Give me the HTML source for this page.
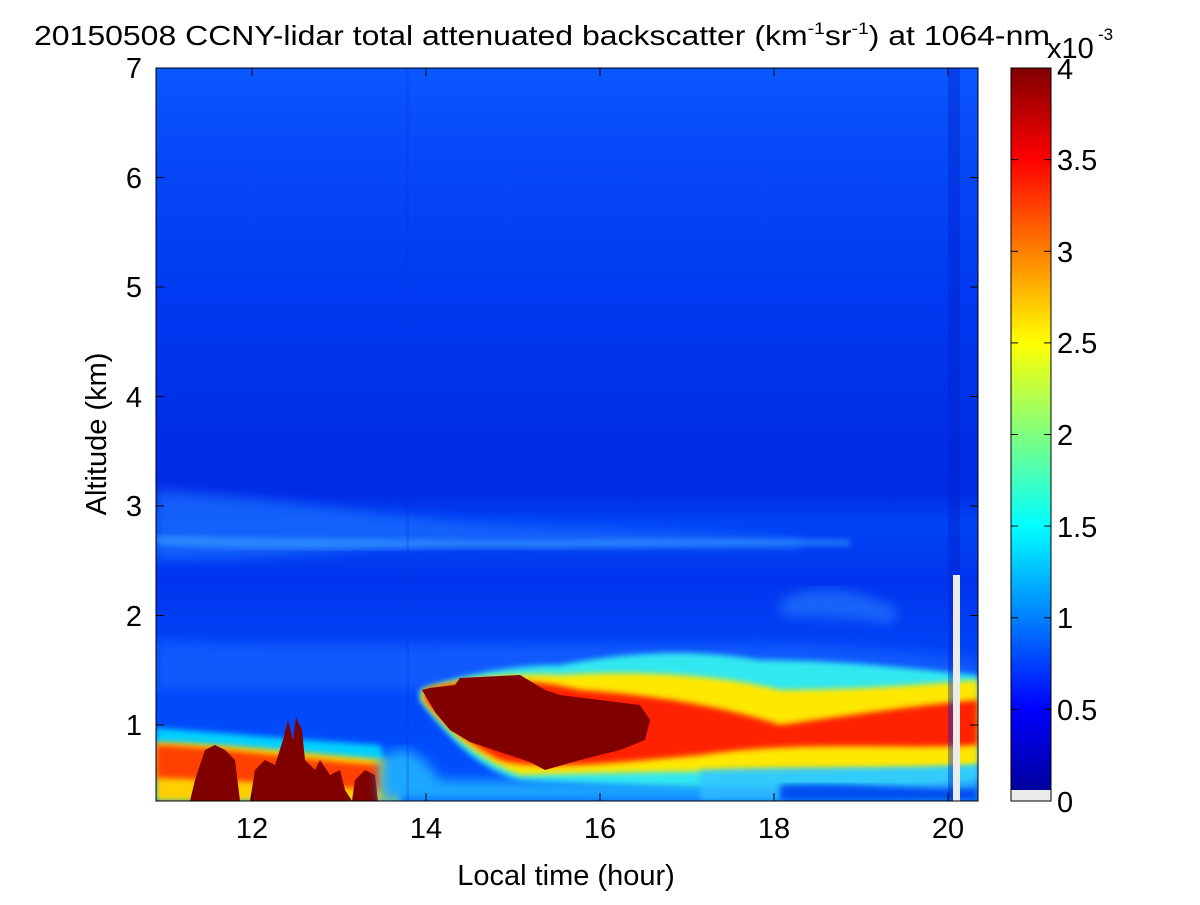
<!DOCTYPE html>
<html><head><meta charset="utf-8"><style>
body{margin:0;background:#fff;}
svg text{font-family:"Liberation Sans",Arial,sans-serif;fill:#000;}
</style></head><body>
<svg width="1200" height="900" viewBox="0 0 1200 900" xmlns="http://www.w3.org/2000/svg">
<defs>
<linearGradient id="bg" x1="0" y1="68" x2="0" y2="801" gradientUnits="userSpaceOnUse">
<stop offset="0" stop-color="#0a58ff"/>
<stop offset="0.08" stop-color="#084cfa"/>
<stop offset="0.3" stop-color="#003af2"/>
<stop offset="0.5" stop-color="#002ee8"/>
<stop offset="0.58" stop-color="#002ce6"/>
<stop offset="0.62" stop-color="#0044f6"/>
<stop offset="0.7" stop-color="#0034ee"/>
<stop offset="0.8" stop-color="#0044f8"/>
<stop offset="1" stop-color="#0050ff"/>
</linearGradient>
<linearGradient id="jet" x1="0" y1="801" x2="0" y2="68" gradientUnits="userSpaceOnUse">
<stop offset="0" stop-color="#00008f"/>
<stop offset="0.125" stop-color="#0000ff"/>
<stop offset="0.375" stop-color="#00ffff"/>
<stop offset="0.625" stop-color="#ffff00"/>
<stop offset="0.875" stop-color="#ff0000"/>
<stop offset="1" stop-color="#800000"/>
</linearGradient>
<filter id="b3"><feGaussianBlur stdDeviation="3"/></filter>
<filter id="b6"><feGaussianBlur stdDeviation="6"/></filter>
<clipPath id="pc"><rect x="156" y="68" width="822" height="733"/></clipPath>
</defs>
<g clip-path="url(#pc)">
<rect x="156" y="68" width="822" height="733" fill="url(#bg)"/>
<path d="M156 490 C300 500 400 520 500 525 C600 530 700 530 800 540 L800 548 C700 545 600 548 500 545 C400 540 300 560 156 560Z" fill="#1a70ff" opacity="0.7" filter="url(#b6)"/>
<path d="M156 535 C300 540 400 538 500 540 C600 540 700 538 850 540 L850 546 C700 546 600 548 500 548 C400 548 300 552 156 545Z" fill="#3aa0ff" opacity="0.6" filter="url(#b3)"/>
<path d="M780 600 C820 580 860 590 900 610 L890 625 C850 615 820 620 780 615Z" fill="#2a80ff" opacity="0.6" filter="url(#b6)"/>
<path d="M156 640 C300 650 500 640 700 645 C800 640 900 650 978 660 L978 690 L156 690Z" fill="#1c68ff" opacity="0.6" filter="url(#b6)"/>
<path d="M156 728 C250 735 300 740 380 745 L400 801 L156 801Z" fill="#00d0ff" filter="url(#b3)"/>
<path d="M156 742 C250 745 320 755 390 760 L400 801 L156 801Z" fill="#ffd000" filter="url(#b3)"/>
<path d="M156 745 C230 748 300 760 380 765 L380 790 C300 785 230 780 156 778Z" fill="#ff4000" filter="url(#b3)"/>
<path d="M190 801 L195 780 L205 750 L215 745 L225 750 L235 760 L240 801 L250 801 L255 770 L265 760 L275 765 L283 740 L288 720 L293 740 L296 717 L302 730 L305 760 L315 770 L320 760 L330 775 L340 770 L345 790 L352 801 L355 780 L365 770 L375 775 L378 801Z" fill="#800000"/>
<path d="M380 760 C400 740 420 750 440 780 L978 785 L978 801 L380 801Z" fill="#1aa8ff" filter="url(#b6)"/>
<path d="M420 690 C450 680 500 665 560 665 C640 650 700 650 760 660 C850 660 920 670 978 675 L978 780 C900 790 700 790 520 780 C480 770 450 740 420 700Z" fill="#30e8f0" filter="url(#b3)"/>
<path d="M422 690 C450 680 500 672 560 675 C640 670 720 675 780 690 C850 690 920 685 978 680 L978 765 C900 770 700 770 520 775 C480 760 450 735 422 700Z" fill="#ffe800" filter="url(#b3)"/>
<path d="M425 690 C460 680 520 675 580 690 C650 695 720 705 780 725 C850 715 920 705 978 700 L978 745 C900 750 800 740 700 755 C620 762 540 772 500 760 C470 745 445 725 425 700Z" fill="#ff2000" filter="url(#b3)"/>
<path d="M422 690 L430 688 L455 685 L460 678 L500 676 L520 675 L545 690 L560 695 L600 700 L640 705 L650 720 L645 740 L620 750 L580 760 L545 770 L530 762 L500 752 L470 742 L450 730 L435 712Z" fill="#800000"/>
<path d="M700 770 C800 765 900 770 978 765 L978 801 L700 801Z" fill="#30c0ff" opacity="0.7" filter="url(#b3)"/>
<path d="M780 785 C850 782 920 790 978 788 L978 801 L780 801Z" fill="#0050f0" filter="url(#b3)"/>
<rect x="406" y="68" width="3" height="733" fill="#0030e0" opacity="0.2"/>
<rect x="948" y="68" width="12" height="733" fill="#0020c8" opacity="0.4"/>
<rect x="953" y="575" width="7" height="226" fill="#ebebeb"/>
</g>
<rect x="156" y="68" width="822" height="733" fill="none" stroke="#000" stroke-width="1"/>
<g stroke="#000" stroke-width="1">
<line x1="252" y1="801" x2="252" y2="793"/><line x1="426" y1="801" x2="426" y2="793"/><line x1="600" y1="801" x2="600" y2="793"/><line x1="774" y1="801" x2="774" y2="793"/><line x1="948" y1="801" x2="948" y2="793"/>
<line x1="252" y1="68" x2="252" y2="76"/><line x1="426" y1="68" x2="426" y2="76"/><line x1="600" y1="68" x2="600" y2="76"/><line x1="774" y1="68" x2="774" y2="76"/><line x1="948" y1="68" x2="948" y2="76"/>
<line x1="156" y1="725" x2="164" y2="725"/><line x1="156" y1="615.5" x2="164" y2="615.5"/><line x1="156" y1="506" x2="164" y2="506"/><line x1="156" y1="396.5" x2="164" y2="396.5"/><line x1="156" y1="287" x2="164" y2="287"/><line x1="156" y1="177.5" x2="164" y2="177.5"/>
<line x1="978" y1="725" x2="970" y2="725"/><line x1="978" y1="615.5" x2="970" y2="615.5"/><line x1="978" y1="506" x2="970" y2="506"/><line x1="978" y1="396.5" x2="970" y2="396.5"/><line x1="978" y1="287" x2="970" y2="287"/><line x1="978" y1="177.5" x2="970" y2="177.5"/>
</g>
<g font-size="29" text-anchor="end">
<text x="142" y="735">1</text><text x="142" y="626">2</text><text x="142" y="516">3</text><text x="142" y="407">4</text><text x="142" y="297">5</text><text x="142" y="188">6</text><text x="142" y="78">7</text>
</g>
<g font-size="29" text-anchor="middle">
<text x="252" y="838">12</text><text x="426" y="838">14</text><text x="600" y="838">16</text><text x="774" y="838">18</text><text x="948" y="838">20</text>
<text x="566" y="885">Local time (hour)</text>
</g>
<text transform="translate(106 434) rotate(-90)" font-size="29" text-anchor="middle">Altitude (km)</text>
<text x="34" y="45" font-size="28" textLength="1016" lengthAdjust="spacingAndGlyphs">20150508 CCNY-lidar total attenuated backscatter (km<tspan dy="-11" font-size="17">-1</tspan><tspan dy="11">sr</tspan><tspan dy="-11" font-size="17">-1</tspan><tspan dy="11">) at 1064-nm</tspan></text>
<text x="1047" y="58" font-size="29">x10</text><text x="1098" y="40" font-size="17">-3</text>
<rect x="1011" y="68" width="40" height="733" fill="url(#jet)"/>
<rect x="1011" y="790" width="40" height="11" fill="#ebebeb"/>
<rect x="1011" y="68" width="40" height="733" fill="none" stroke="#000" stroke-width="1"/>
<g stroke="#000" stroke-width="1">
<line x1="1011" y1="709.4" x2="1018" y2="709.4"/><line x1="1051" y1="709.4" x2="1044" y2="709.4"/>
<line x1="1011" y1="617.8" x2="1018" y2="617.8"/><line x1="1051" y1="617.8" x2="1044" y2="617.8"/>
<line x1="1011" y1="526.1" x2="1018" y2="526.1"/><line x1="1051" y1="526.1" x2="1044" y2="526.1"/>
<line x1="1011" y1="434.5" x2="1018" y2="434.5"/><line x1="1051" y1="434.5" x2="1044" y2="434.5"/>
<line x1="1011" y1="342.9" x2="1018" y2="342.9"/><line x1="1051" y1="342.9" x2="1044" y2="342.9"/>
<line x1="1011" y1="251.3" x2="1018" y2="251.3"/><line x1="1051" y1="251.3" x2="1044" y2="251.3"/>
<line x1="1011" y1="159.6" x2="1018" y2="159.6"/><line x1="1051" y1="159.6" x2="1044" y2="159.6"/>
</g>
<g font-size="29">
<text x="1057" y="812">0</text><text x="1057" y="720">0.5</text><text x="1057" y="628">1</text><text x="1057" y="537">1.5</text><text x="1057" y="445">2</text><text x="1057" y="353">2.5</text><text x="1057" y="262">3</text><text x="1057" y="170">3.5</text><text x="1057" y="79">4</text>
</g>
</svg>
</body></html>
